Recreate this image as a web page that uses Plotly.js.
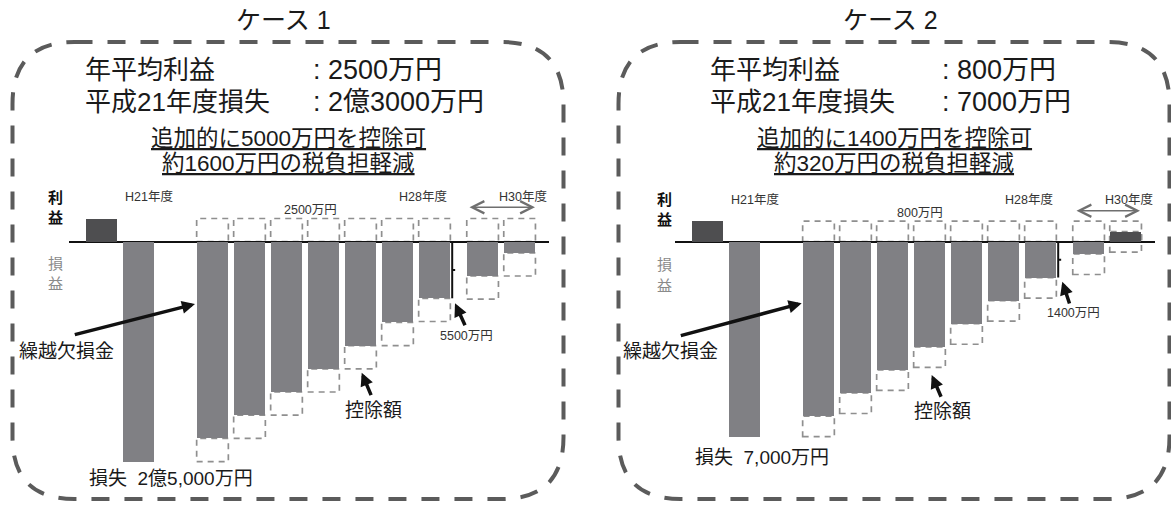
<!DOCTYPE html>
<html><head><meta charset="utf-8">
<script src="https://cdn.plot.ly/plotly-3.0.1.min.js"></script>
<style>html,body{margin:0;padding:0;background:#fff;}</style>
</head><body><div id="chart" style="width:1171px;height:505px;"></div>
<script>
// ---- data (万円) ----
const years = ['H20','H21','H22','H23','H24','H25','H26','H27','H28','H29','H30'];
const case1Values = [2500, -23700, -21200, -18700, -16200, -13700, -11200, -8700, -6100, -3700, -1200];
const case1Profit = 2500;
const case2Values = [800, -7600, -6800, -5900, -5000, -4100, -3200, -2300, -1400, -480, 390];
const case2Profit = 800;
const caseTitles = ['ケース 1', 'ケース 2'];
const avgProfitLabel = '年平均利益';
const lossYearLabel = '平成21年度損失';
const avgProfitText = [': 2500万円', ': 800万円'];
const lossYearText = [': 2億3000万円', ': 7000万円'];
const extraText = ['追加的に5000万円を控除可', '追加的に1400万円を控除可'];
const taxText = ['約1600万円の税負担軽減', '約320万円の税負担軽減'];
const stepText = ['2500万円', '800万円'];
const bracketText = ['5500万円', '1400万円'];
const lossText = ['損失\u00a0\u00a02億5,000万円', '損失\u00a0\u00a07,000万円'];
const yearMarks = ['H21年度', 'H28年度', 'H30年度'];
const profitChars = ['利', '益'];
const pnlChars = ['損', '益'];

// ---- layout helpers ----
const W = 1171, H = 505;
const X = p => p / W, Y = p => 1 - p / H;
const FONT = 'Arial, "Liberation Sans", "Noto Sans CJK JP", sans-serif';
const JFONT = '"Noto Sans CJK JP", "Liberation Sans", sans-serif';
const OFF = 606;
const BARW = 0.857;
const slot = i => (i < 2 ? i : (i < 9 ? i + 1 : i + 1.3));
const ZERO = 241.7, TOP = 190, BOT = 470;
const cases = [
  {values: case1Values, profit: case1Profit, unit: 107.8, ox: 0},
  {values: case2Values, profit: case2Profit, unit: 39.0, ox: OFF}
];

const data = [];
const shapes = [];
const annotations = [];
const layout = {
  width: W, height: H, margin: {l:0, r:0, t:0, b:0},
  paper_bgcolor: '#fff', plot_bgcolor: 'rgba(0,0,0,0)',
  showlegend: false, bargap: 0
};

cases.forEach((c, k) => {
  const xa = k === 0 ? 'x' : 'x2', ya = k === 0 ? 'y' : 'y2';
  const xk = k === 0 ? 'xaxis' : 'xaxis2', yk = k === 0 ? 'yaxis' : 'yaxis2';
  layout[xk] = {domain: [X(69.3 + c.ox), X(549.3 + c.ox)], range: [(69.3 - 101.5) / 37, (549.3 - 101.5) / 37],
    visible: false, fixedrange: true};
  layout[yk] = {domain: [Y(BOT), Y(TOP)], range: [-(BOT - ZERO) * c.unit, (ZERO - TOP) * c.unit],
    showgrid: false, showticklabels: false, ticks: '', showline: false,
    zeroline: true, zerolinecolor: '#111', zerolinewidth: 2, fixedrange: true};
  if (k === 1) { layout[xk].anchor = 'y2'; layout[yk].anchor = 'x2'; }
  const xs = years.map((_, i) => slot(i));
  data.push({type: 'bar', x: xs, y: c.values, width: BARW, xaxis: xa, yaxis: ya,
    marker: {color: c.values.map(v => v > 0 ? '#4e4e50' : '#808084'), line: {width: 0}},
    hoverinfo: 'skip'});
  // deduction boxes
  c.values.forEach((v, i) => {
    if (i < 2) return;
    const s = slot(i);
    const st = {type: 'rect', xref: xa, yref: ya, x0: s - BARW / 2, x1: s + BARW / 2, layer: 'below',
      line: {color: '#8f8f8f', width: 1.7, dash: '6px,5px'}};
    shapes.push(Object.assign({}, st, {y0: 0, y1: c.profit}));
    shapes.push(Object.assign({}, st, {y0: v - c.profit, y1: v}));
  });
  // bracket on H28
  const xb = slot(8) + BARW / 2 + 0.05;
  const v8 = c.values[8];
  shapes.push({type: 'line', xref: xa, yref: ya, x0: xb, x1: xb, y0: 0, y1: v8, line: {color: '#111', width: 2}});
  shapes.push({type: 'line', xref: xa, yref: ya, x0: xb, x1: xb + 0.08, y0: v8 / 2, y1: v8 / 2, line: {color: '#111', width: 2}});
});

// rounded dashed borders
function roundRect(l, t, r, b, rad) {
  const P = (x, y) => X(x) + ',' + Y(y);
  return 'M' + P(l + rad, t) + ' L' + P(r - rad, t) + ' Q' + P(r, t) + ' ' + P(r, t + rad) +
    ' L' + P(r, b - rad) + ' Q' + P(r, b) + ' ' + P(r - rad, b) +
    ' L' + P(l + rad, b) + ' Q' + P(l, b) + ' ' + P(l, b - rad) +
    ' L' + P(l, t + rad) + ' Q' + P(l, t) + ' ' + P(l + rad, t) + ' Z';
}
[0, 1].forEach(k => {
  const ox = k * OFF;
  shapes.push({type: 'path', xref: 'paper', yref: 'paper', path: roundRect(12.5 + ox, 42, 563.5 + ox, 499, 62),
    line: {color: '#5b5b5b', width: 4, dash: '18px,15px'}});
});

function txt(text, x, y, size, opts) {
  annotations.push(Object.assign({text: text, xref: 'paper', yref: 'paper', x: X(x), y: Y(y),
    xanchor: 'center', yanchor: 'middle', showarrow: false,
    font: {family: FONT, size: size, color: '#1a1a1a'}}, opts || {}));
}
function arrow(hx, hy, tx, ty, opts) {
  annotations.push(Object.assign({text: '', xref: 'paper', yref: 'paper', x: X(hx), y: Y(hy),
    ax: tx - hx, ay: ty - hy, showarrow: true, arrowhead: 2, arrowsize: 0.75, arrowwidth: 3.5,
    arrowcolor: '#111', standoff: 0}, opts || {}));
}

// per-case text positions (px)
const pos = [
  {title: 283, lab: 83, val: 311, ul: 288, ri: 55.5, dy: 0, h21: 122.7, step: 310, h28: 449, h30: 549,
   darr: [468, 535, 207.3], kuri: 116, kuriA: [195, 304, 73.3, 335],
   kojo: [373.5, 410], kojoA: [361.7, 372.7, 371.7, 396.7],
   br: [466.5, 335.7], brA: [455, 303.3, 465.7, 326.7], loss: [86.7, 478]},
  {title: 890, lab: 708, val: 940, ul: 894, ri: 664, dy: 3, h21: 729, step: 920, h28: 1055, h30: 1155,
   darr: [1075, 1140, 210.7], kuri: 720, kuriA: [801.7, 303.3, 679.3, 336],
   kojo: [942.5, 411.7], kojoA: [931.7, 375, 941.7, 398.3],
   br: [1073.3, 313.3], brA: [1062.3, 281.7, 1070, 305], loss: [693, 457]}
];

pos.forEach((p, k) => {
  txt(caseTitles[k], p.title, 20, 25);
  txt(avgProfitLabel, p.lab, 70, 26, {xanchor: 'left'});
  txt(avgProfitText[k], p.val, 70, 27, {xanchor: 'left'});
  txt(lossYearLabel, p.lab, 102, 26, {xanchor: 'left'});
  txt(lossYearText[k], p.val, 102, 27, {xanchor: 'left'});
  txt('<span style="text-decoration:underline">' + extraText[k] + '</span>', p.ul, 138, 22.5);
  txt('<span style="text-decoration:underline">' + taxText[k] + '</span>', p.ul, 163, 22.5);
  const boldF = {family: JFONT, size: 15, color: '#111', weight: 'bold'};
  const grayF = {family: JFONT, size: 15, color: '#8a8a8a'};
  txt(profitChars[0], p.ri, 196.5 + p.dy / 2, 15, {font: boldF});
  txt(profitChars[1], p.ri, 217 + p.dy / 2, 15, {font: boldF});
  txt(pnlChars[0], p.ri, 262 + p.dy / 2, 15, {font: grayF});
  txt(pnlChars[1], p.ri, 282.5 + p.dy / 2, 15, {font: grayF});
  const small = {family: FONT, size: 12.5, color: '#333'};
  txt(yearMarks[0], p.h21, 196 + p.dy, 12.5, {xanchor: 'left', font: small});
  txt(yearMarks[1], p.h28, 196 + p.dy, 12.5, {xanchor: 'right', font: small});
  txt(yearMarks[2], p.h30, 196 + p.dy, 12.5, {xanchor: 'right', font: small});
  txt(stepText[k], p.step, 210 + p.dy, 12.5, {font: small});
  annotations.push({text: '', xref: 'paper', yref: 'paper', x: X(p.darr[1]), y: Y(p.darr[2]),
    ax: p.darr[0] - p.darr[1], ay: 0, showarrow: true, arrowside: 'end+start',
    arrowhead: 5, startarrowhead: 5, arrowsize: 1.6, startarrowsize: 1.6, arrowwidth: 1.5, arrowcolor: '#6f6f6f', standoff: 0, startstandoff: 0});
  txt('繰越欠損金', p.kuri, 351.7, 19, {xanchor: 'right'});
  arrow(p.kuriA[0], p.kuriA[1], p.kuriA[2], p.kuriA[3]);
  txt('控除額', p.kojo[0], p.kojo[1], 19);
  arrow(p.kojoA[0], p.kojoA[1], p.kojoA[2], p.kojoA[3]);
  txt(bracketText[k], p.br[0], p.br[1], 12.5, {font: small});
  arrow(p.brA[0], p.brA[1], p.brA[2], p.brA[3]);
  txt(lossText[k], p.loss[0], p.loss[1], 19, {xanchor: 'left'});
});

layout.shapes = shapes;
layout.annotations = annotations;
Plotly.newPlot('chart', data, layout, {displayModeBar: false, staticPlot: true});
</script>
</body></html>
